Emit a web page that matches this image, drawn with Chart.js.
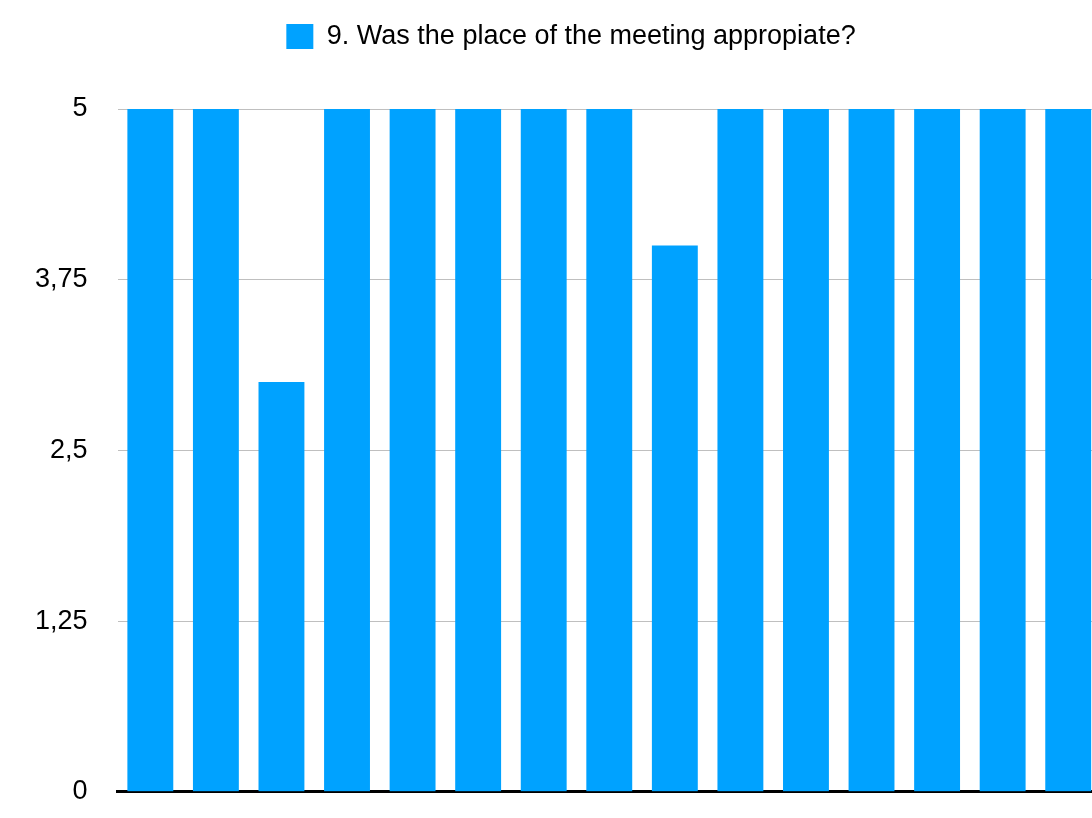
<!DOCTYPE html>
<html>
<head>
<meta charset="utf-8">
<script src="https://cdn.jsdelivr.net/npm/chart.js@4"></script>
<style>
    html, body { margin: 0; padding: 0; background: #fff; overflow: hidden; }
    #wrap { width: 1142px; height: 838px; }
</style>
</head>
<body>
<div id="wrap"><canvas id="chart"></canvas></div>
<script>
// --- Data ---
const categories = ['1', '2', '3', '4', '5', '6', '7', '8', '9', '10', '11', '12', '13', '14', '15'];
const seriesLabel = '9. Was the place of the meeting appropiate?';
const seriesValues = [5, 5, 3, 5, 5, 5, 5, 5, 4, 5, 5, 5, 5, 5, 5];
const yTicks = [0, 1.25, 2.5, 3.75, 5];

const font = "'Liberation Sans', Arial, Helvetica, sans-serif";

// extra room under the legend, and legend centred on the whole canvas
const legendGap = {
    id: 'legendGap',
    beforeInit(chart) {
        const fit = chart.legend.fit;
        chart.legend.fit = function () {
            fit.bind(chart.legend)();
            this.height += 49;
        };
    },
    afterLayout(chart) {
        chart.legend.left += 18;
        chart.legend.right += 18;
    }
};

const ctx = document.getElementById('chart').getContext('2d');
new Chart(ctx, {
    type: 'bar',
    data: {
        labels: categories,
        datasets: [{
            label: seriesLabel,
            data: seriesValues,
            backgroundColor: '#00a2ff',
            borderWidth: 0,
            barPercentage: 0.7,
            categoryPercentage: 1
        }]
    },
    options: {
        responsive: true,
        maintainAspectRatio: false,
        animation: false,
        layout: { padding: { left: 5, right: 41, top: 3, bottom: 7 } },
        scales: {
            x: {
                grid: { display: false, drawTicks: false },
                border: { color: '#000', width: 3 },
                ticks: { display: false },
                afterFit: s => { s.height = 0; }
            },
            y: {
                min: 0,
                max: 5,
                afterBuildTicks: axis => { axis.ticks = yTicks.map(v => ({ value: v })); },
                grid: { color: '#bfbfbf', lineWidth: 1, drawTicks: false },
                border: { display: false },
                ticks: {
                    color: '#000',
                    padding: 30,
                    font: { family: font, size: 27 },
                    callback: v => String(v).replace('.', ',')
                }
            }
        },
        plugins: {
            legend: {
                display: true,
                position: 'top',
                labels: {
                    color: '#000',
                    boxWidth: 27,
                    boxHeight: 25,
                    padding: 20,
                    font: { family: font, size: 27 }
                }
            },
            tooltip: { enabled: false }
        }
    },
    plugins: [legendGap]
});
</script>
</body>
</html>
